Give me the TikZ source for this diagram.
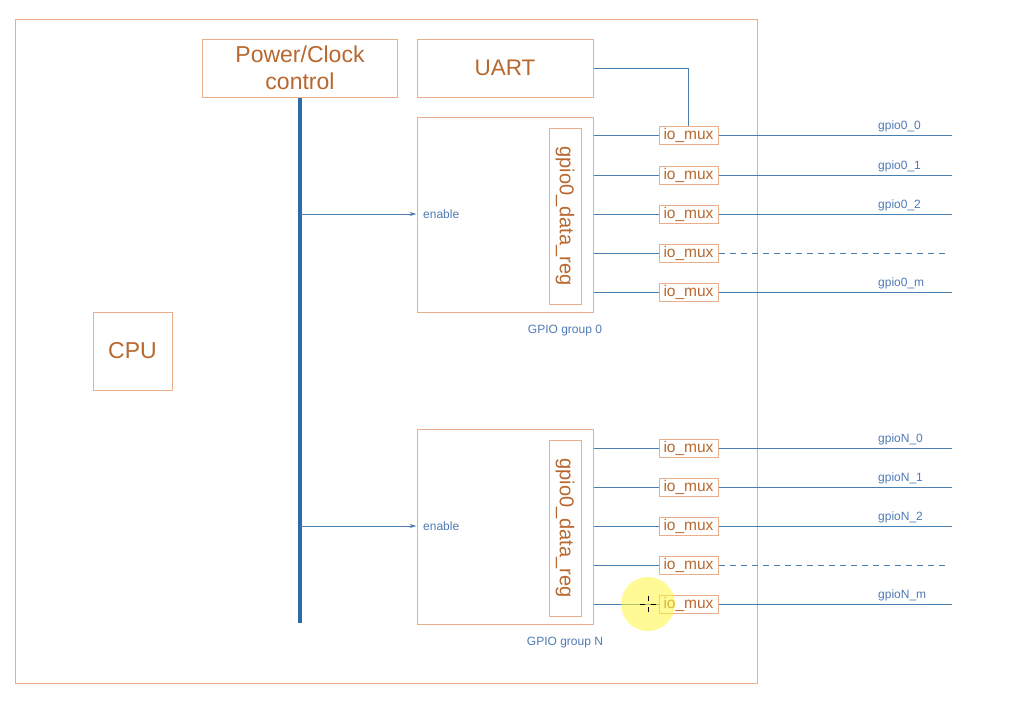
\documentclass[tikz,border=0pt]{standalone}
\usepackage{fontspec}
\setmainfont{Liberation Sans}
\usetikzlibrary{arrows.meta}
\definecolor{obord}{HTML}{EBAE8A}
\definecolor{otext}{HTML}{B8682E}
\definecolor{bline}{HTML}{4A7DB0}
\definecolor{bbus}{HTML}{2B6CA8}
\definecolor{btext}{HTML}{4F7BB5}
\begin{document}
\begin{tikzpicture}[x=1pt,y=-1pt,
 box/.style={draw=obord,line width=1pt,inner sep=0pt,text=otext,align=center},
 mux/.style={box,minimum width=59pt,minimum height=18pt,font=\fontsize{15.5}{15.5}\selectfont},
 wire/.style={draw=bline,line width=1pt},
 bus/.style={draw=bbus,line width=4pt},
 lbl/.style={text=btext,font=\fontsize{12}{12}\selectfont,inner sep=0pt}]
\useasboundingbox (0,0) rectangle (1022,707);
\fill[white] (0,0) rectangle (1022,707);
% boxes
\node[box,minimum width=742pt,minimum height=664pt] (outer) at (386,351) {};
\node[box,minimum width=195pt,minimum height=58pt,font=\fontsize{23}{27}\selectfont] (pc) at (300,68) {Power/Clock\\control};
\node[box,minimum width=176pt,minimum height=58pt,font=\fontsize{22.5}{27}\selectfont] (uart) at (505,68) {UART};
\node[box,minimum width=79pt,minimum height=78pt,font=\fontsize{23}{27}\selectfont] (cpu) at (132.5,351) {CPU};
\node[box,minimum width=176pt,minimum height=195pt] (g0) at (505,214.5) {};
\node[box,minimum width=32pt,minimum height=176pt] (r0) at (565,216) {};
\node[text=otext,rotate=-90,font=\fontsize{20}{20}\selectfont,inner sep=0pt] (r0t) at (r0.center) {gpio0\_data\_reg};
\node[box,minimum width=176pt,minimum height=195pt] (gn) at (505,526.5) {};
\node[box,minimum width=32pt,minimum height=176pt] (rn) at (565,528) {};
\node[text=otext,rotate=-90,font=\fontsize{20}{20}\selectfont,inner sep=0pt] (rnt) at (rn.center) {gpio0\_data\_reg};
\node[lbl] (g0l) at (565,331) {GPIO group 0};
\node[lbl] (gnl) at (565,643) {GPIO group N};
% bus
\coordinate (busend) at (300,623);
\draw[bus] (pc.south) -- (busend);
\draw[wire,-{Stealth[length=7pt,width=4pt]}] (pc.south |- 0,214) -- (g0.west |- 0,214);
\draw[wire,-{Stealth[length=7pt,width=4pt]}] (pc.south |- 0,526) -- (gn.west |- 0,526);
\node[lbl,anchor=west] (en0) at (423,214) {enable};
\node[lbl,anchor=west] (enn) at (423,526) {enable};
% group 0 muxes
\foreach \i/\y/\t in {0/135/gpio0\_0,1/175/gpio0\_1,2/214/gpio0\_2,4/292/gpio0\_m}{
  \node[mux] (ma\i) at (688.5,\y) {io\_mux};
  \coordinate (ea\i) at (952,\y);
  \draw[wire] (g0.east |- ma\i.west) -- (ma\i.west);
  \draw[wire] (ma\i.east) -- (ea\i);
  \node[lbl,anchor=south west] (la\i) at (878,\y-3) {\t};
}
\node[mux] (ma3) at (688.5,253) {io\_mux};
\coordinate (ea3) at (948,253);
\draw[wire] (g0.east |- ma3.west) -- (ma3.west);
\draw[wire,dash pattern=on 6pt off 5pt] (ma3.east) -- (ea3);
% group N muxes
\foreach \i/\y/\t in {0/448/gpioN\_0,1/487/gpioN\_1,2/526/gpioN\_2,4/604/gpioN\_m}{
  \node[mux] (mb\i) at (688.5,\y) {io\_mux};
  \coordinate (eb\i) at (952,\y);
  \draw[wire] (gn.east |- mb\i.west) -- (mb\i.west);
  \draw[wire] (mb\i.east) -- (eb\i);
  \node[lbl,anchor=south west] (lb\i) at (878,\y-3) {\t};
}
\node[mux] (mb3) at (688.5,565) {io\_mux};
\coordinate (eb3) at (948,565);
\draw[wire] (gn.east |- mb3.west) -- (mb3.west);
\draw[wire,dash pattern=on 6pt off 5pt] (mb3.east) -- (eb3);
% UART to first mux
\draw[wire] (uart.east) -| (ma0.north);
% cursor highlight
\fill[yellow!75!white,opacity=0.55] (648,604) circle (27);
\draw[black,line width=0.8pt] (640,604) -- (645,604) (651,604) -- (656,604) (648,596) -- (648,601) (648,607) -- (648,612);
\end{tikzpicture}
\end{document}
